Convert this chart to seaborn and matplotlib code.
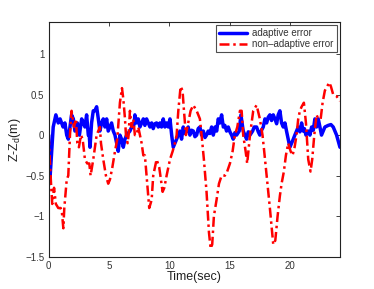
import numpy as np
import pandas as pd
import matplotlib
matplotlib.use("Agg")
import matplotlib.pyplot as plt
import seaborn as sns

# adaptive error
t_adapt = [0.0, 0.08, 0.15, 0.3, 0.38, 0.6, 0.8, 0.95, 1.2, 1.35, 1.5, 1.63, 1.77, 1.9, 2.05, 2.18,
           2.38, 2.55, 2.74, 2.88, 3.01, 3.15, 3.29, 3.37, 3.43, 3.56, 3.7, 3.83, 3.98, 4.12, 4.25,
           4.39, 4.53, 4.67, 4.81, 4.94, 5.08, 5.22, 5.36, 5.5, 5.64, 5.77, 5.91, 6.05, 6.19, 6.33,
           6.46, 6.74, 6.88, 7.02, 7.1, 7.15, 7.29, 7.43, 7.57, 7.71, 7.85, 7.98, 8.12, 8.26, 8.4, 8.54,
           8.67, 8.81, 8.95, 9.09, 9.23, 9.36, 9.5, 9.64, 9.78, 9.92, 10.06, 10.2, 10.33, 10.47, 10.61, 10.75,
           10.88, 11.02, 11.16, 11.3, 11.44, 11.57, 11.71, 11.85, 11.99, 12.13, 12.27, 12.4, 12.54, 12.68,
           12.82, 12.96, 13.09, 13.23, 13.37, 13.51,
           13.65, 13.8, 13.93, 14.06, 14.2, 14.34, 14.48, 14.61, 14.75, 14.89, 15.03, 15.17, 15.3, 15.44,
           15.58, 15.8, 15.94, 16.13,
           16.27, 16.41, 16.55, 16.69, 16.91, 17.04, 17.24, 17.38, 17.51, 17.65, 17.79, 17.93, 18.07, 18.2,
           18.34, 18.48, 18.62, 18.76,
           18.9, 19.03, 19.17, 19.31, 19.45, 19.59, 19.72, 19.86, 20.0, 20.14, 20.28, 20.41, 20.55, 20.69,
           20.83, 20.97, 21.1, 21.2, 21.33, 21.52, 21.66, 21.8, 21.94, 22.07, 22.21, 22.35, 22.49, 22.62,
           22.76, 22.9, 23.18, 23.4, 23.59, 23.87, 24.15]
y_adapt = [0.0, -0.6, -0.45, -0.1, 0.1, 0.25, 0.15, 0.2, 0.1, 0.15, 0.0, -0.05, 0.1, 0.25, 0.2, 0.05,
           0.15, 0.0, 0.2, 0.15, 0.1, 0.25, 0.0, 0.0, -0.15, 0.15, 0.3, 0.3, 0.35, 0.2, 0.05,
           0.15, 0.2, 0.1, 0.2, 0.05, 0.1, 0.15, 0.05, 0.0, -0.1, -0.2, 0.0, -0.05, -0.15, -0.05,
           0.0, 0.05, 0.1, 0.1, 0.15, 0.25, 0.15, 0.2, 0.1, 0.15, 0.2, 0.12, 0.2, 0.15, 0.1, 0.15,
           0.08, 0.14, 0.15, 0.1, 0.15, 0.1, 0.2, 0.1, 0.15, 0.1, 0.2, 0.0, -0.15, -0.1, -0.05, 0.0,
           0.05, -0.05, 0.1, 0.02, 0.05, 0.1, 0.0, 0.06, 0.05, -0.02, 0.0, 0.08, 0.1, 0.0,
           0.05, -0.03, 0.0, 0.05, 0.02, 0.1,
           0.0, 0.1, 0.05, 0.2, 0.15, 0.25, 0.1, 0.12, 0.05, 0.1, 0.04, 0.0, -0.05, 0.03,
           0.0, 0.05, 0.25, 0.05,
           0.0, -0.05, 0.04, 0.0, 0.05, 0.1, 0.1, 0.04, 0.0, 0.06, 0.1, 0.2, 0.15, 0.22,
           0.25, 0.18, 0.25, 0.2,
           0.14, 0.25, 0.3, 0.15, 0.1, 0.15, 0.05, -0.05, -0.15, -0.1, -0.05, 0.0, 0.05, 0.1,
           0.04, 0.15, 0.05, 0.08, 0.0, 0.05, 0.0, 0.1, 0.06, 0.2, 0.1, 0.2, 0.1, 0.0,
           0.05, 0.1, 0.12, 0.13, 0.1, 0.0, -0.15]

# non-adaptive error
t_nonadapt = [0.0, 0.1, 0.2, 0.3, 0.45, 0.6, 0.8, 1.0, 1.1, 1.22, 1.3, 1.5, 1.63, 1.77, 1.9, 2.1,
              2.26, 2.38, 2.51, 2.68, 2.82, 3.01, 3.2, 3.37, 3.48, 3.7, 3.98, 4.25, 4.34, 4.53, 4.75,
              4.94, 5.08, 5.28, 5.5, 5.69, 5.91, 6.08, 6.19, 6.33, 6.41, 6.55, 6.63, 6.74, 6.88, 7.02,
              7.15, 7.29, 7.43, 7.57, 7.71, 7.85, 7.98, 8.12, 8.34, 8.54, 8.67, 8.95, 9.17, 9.45, 9.59,
              9.78, 10.06, 10.28, 10.47, 10.61, 10.75, 10.94, 11.1, 11.22, 11.38, 11.57, 11.77, 11.99,
              12.27, 12.54, 12.68, 12.87, 13.09, 13.29, 13.43, 13.56, 13.7, 13.92, 14.12, 14.34, 14.61,
              14.8, 15.03, 15.25, 15.44, 15.64, 15.86, 16.0, 16.13, 16.33, 16.46, 16.69, 16.96, 17.24,
              17.51, 17.73, 17.87, 18.07, 18.34, 18.62, 18.79, 18.98, 19.17, 19.31, 19.5, 19.67, 19.86,
              20.06, 20.22, 20.39, 20.55, 20.69, 20.83, 20.97, 21.16, 21.33, 21.52, 21.71, 21.85, 22.02,
              22.21, 22.35, 22.55, 22.71, 22.9, 23.09, 23.26, 23.4, 23.59, 23.87, 24.15]
y_nonadapt = [0.0, -0.3, -0.6, -0.85, -0.65, -0.85, -0.9, -0.9, -0.95, -1.15, -0.9, -0.55, -0.5, 0.0, 0.3, 0.1,
              0.2, -0.1, -0.15, 0.0, -0.05, -0.3, -0.35, -0.35, -0.5, -0.3, 0.0, 0.1, -0.1, -0.3, -0.5,
              -0.6, -0.55, -0.4, -0.2, -0.05, 0.4, 0.58, 0.45, 0.2, 0.0, -0.1, 0.0, 0.3, 0.1, 0.2,
              0.0, 0.0, 0.1, 0.0, -0.1, -0.25, -0.25, -0.5, -0.9, -0.8, -0.5, -0.3, -0.4, -0.7, -0.65,
              -0.5, -0.3, -0.2, -0.1, 0.0, 0.3, 0.6, 0.55, 0.3, 0.0, 0.15, 0.3, 0.37,
              0.3, 0.2, 0.0, -0.3, -0.7, -1.2, -1.4, -1.35, -1.0, -0.8, -0.6, -0.5, -0.5,
              -0.45, -0.35, -0.2, 0.0, 0.1, 0.3, 0.3, 0.0, -0.2, -0.35, 0.0, 0.3, 0.37,
              0.2, 0.0, -0.2, -0.5, -0.9, -1.35, -1.3, -1.0, -0.75, -0.6, -0.45, -0.25, -0.1,
              -0.2, -0.25, -0.15, 0.0, 0.2, 0.3, 0.35, 0.4, 0.15, -0.3, -0.45, -0.3, 0.0,
              0.25, 0.2, 0.2, 0.4, 0.55, 0.6, 0.65, 0.6, 0.5, 0.48, 0.42]

x_ticks = [0, 5, 10, 15, 20]
y_ticks = [-1.5, -1, -0.5, 0, 0.5, 1]
y_ticklabels = ["\u22121.5", "\u22121", "\u22120.5", "0", "0.5", "1"]

sns.set_style("white")
plt.rcParams['font.family'] = ['Liberation Sans', 'DejaVu Sans']
plt.rcParams['mathtext.fontset'] = 'custom'
plt.rcParams['mathtext.rm'] = 'Liberation Sans'
plt.rcParams['mathtext.it'] = 'Liberation Sans'

df_a = pd.DataFrame({"t": t_adapt, "y": y_adapt})
df_n = pd.DataFrame({"t": t_nonadapt, "y": y_nonadapt})

fig = plt.figure(figsize=(3.74, 2.89), dpi=100)
ax = fig.add_axes([0.130, 0.112, 0.779, 0.813])

sns.lineplot(data=df_a, x="t", y="y", ax=ax, color="#0000ff", lw=2.5,
             sort=False, estimator=None, label="adaptive error")
sns.lineplot(data=df_n, x="t", y="y", ax=ax, color="#ff0000", lw=1.8,
             sort=False, estimator=None, label="non\u2013adaptive error",
             linestyle=(0, (4, 1.5, 1, 1.5)))

ax.set_xlim(0, 24.15)
ax.set_ylim(-1.5, 1.4)
ax.set_xticks(x_ticks)
ax.set_yticks(y_ticks)
ax.set_yticklabels(y_ticklabels)
ax.tick_params(direction="in", length=3, width=0.6, labelsize=7, top=True, right=True,
               colors="#222222", labelcolor="#333333", pad=3)
for s in ax.spines.values():
    s.set_visible(True)
    s.set_color("#222222")
    s.set_linewidth(0.8)

ax.set_xlabel("Time(sec)", fontsize=9, labelpad=0, color="#222222")
ax.set_ylabel("Z-Z$_\\mathregular{d}$(m)", fontsize=9, labelpad=2, color="#222222")

leg = ax.legend(loc="upper right", fontsize=7, frameon=True, fancybox=False,
                borderpad=0.3, handlelength=2.9, handletextpad=0.5, labelspacing=0.15,
                borderaxespad=0.35)
leg.get_frame().set_edgecolor("#222222")
leg.get_frame().set_linewidth(0.8)
for txt in leg.get_texts():
    txt.set_color("#333333")

fig.savefig("out.png", dpi=100, facecolor="white")
